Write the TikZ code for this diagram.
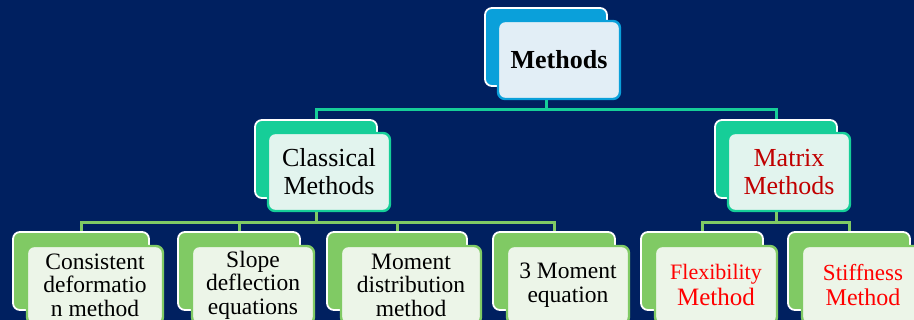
\documentclass[tikz,border=0pt]{standalone}
\usepackage{fontspec}
\setmainfont{Liberation Serif}
\usetikzlibrary{positioning}

\definecolor{navy}{RGB}{0,32,96}
\definecolor{cyanfill}{RGB}{10,160,218}
\definecolor{tealfill}{RGB}{22,206,152}
\definecolor{greenfill}{RGB}{128,202,100}
\definecolor{palecyan}{RGB}{226,238,246}
\definecolor{paleteal}{RGB}{226,244,238}
\definecolor{palegreen}{RGB}{236,245,232}
\definecolor{matred}{RGB}{192,0,0}
\definecolor{methred}{RGB}{255,0,0}

\begin{document}
\begin{tikzpicture}[x=1pt, y=-1pt,
  card/.style={draw=white, line width=1.8pt, rounded corners=7pt, minimum height=78pt, inner sep=0pt},
  face/.style={line width=2.4pt, rounded corners=7pt, minimum height=78pt, inner sep=0pt, align=center},
  topcard/.style={card, fill=cyanfill, minimum width=122pt},
  topface/.style={face, draw=cyanfill, fill=palecyan, minimum width=122pt},
  midcard/.style={card, fill=tealfill, minimum width=122pt},
  midface/.style={face, draw=tealfill, fill=paleteal, minimum width=122pt, font=\fontsize{26}{28}\selectfont},
  lowcard/.style={card, fill=greenfill},
  lowface/.style={face, draw=greenfill, fill=palegreen, font=\fontsize{23.5}{23.5}\selectfont},
  tealline/.style={draw=tealfill, line width=3pt},
  greenline/.style={draw=greenfill, line width=3pt}]
  \useasboundingbox (0,0) rectangle (914,320);
  \fill[navy] (0,0) rectangle (914,320);
  \clip (0,0) rectangle (914,320);

  % back cards
  \node[topcard] (topB) at (546,47) {};
  \node[midcard] (clsB) at (316,159) {};
  \node[midcard] (matB) at (776,159) {};
  \node[lowcard, minimum width=136pt] (consB) at (81,271) {};
  \node[lowcard, minimum width=122pt] (slopeB) at (239,271) {};
  \node[lowcard, minimum width=140pt] (momB) at (397,271) {};
  \node[lowcard, minimum width=122pt] (threeB) at (554,271) {};
  \node[lowcard, minimum width=122pt] (flexB) at (702,271) {};
  \node[lowcard, minimum width=122pt] (stiffB) at (849,271) {};

  % connectors
  \draw[tealline] (topB.south) -- ++(0,23) -| (clsB.north);
  \draw[tealline] (topB.south) -- ++(0,23) -| (matB.north);
  \foreach \c in {consB,slopeB,momB,threeB}
    \draw[greenline] (clsB.south) -- ++(0,24) -| (\c.north);
  \foreach \c in {flexB,stiffB}
    \draw[greenline] (matB.south) -- ++(0,24) -| (\c.north);

  % front cards
  \node[topface, font=\fontsize{26}{28}\selectfont\bfseries] (top) at ([shift={(13,13)}]topB.center) {Methods};
  \node[midface] (cls) at ([shift={(13,13)}]clsB.center) {Classical\\Methods};
  \node[midface, text=matred] (mat) at ([shift={(13,13)}]matB.center) {Matrix\\Methods};
  \node[lowface, minimum width=136pt] (cons) at ([shift={(14,14)}]consB.center) {Consistent\\deformatio\\n method};
  \node[lowface, minimum width=122pt] (slope) at ([shift={(14,14)}]slopeB.center) {Slope\\deflection\\equations};
  \node[lowface, minimum width=140pt] (mom) at ([shift={(14,14)}]momB.center) {Moment\\distribution\\method};
  \node[lowface, minimum width=122pt] (three) at ([shift={(14,14)}]threeB.center) {3 Moment\\equation};
  \node[lowface, minimum width=122pt, text=methred, font=\fontsize{25}{26}\selectfont] (flex) at ([shift={(14,14)}]flexB.center) {{\fontsize{22}{26}\selectfont Flexibility}\\Method};
  \node[lowface, minimum width=122pt, text=methred, font=\fontsize{24}{25}\selectfont] (stiff) at ([shift={(14,14)}]stiffB.center) {{\fontsize{23}{25}\selectfont Stiffness}\\Method};
\end{tikzpicture}
\end{document}
